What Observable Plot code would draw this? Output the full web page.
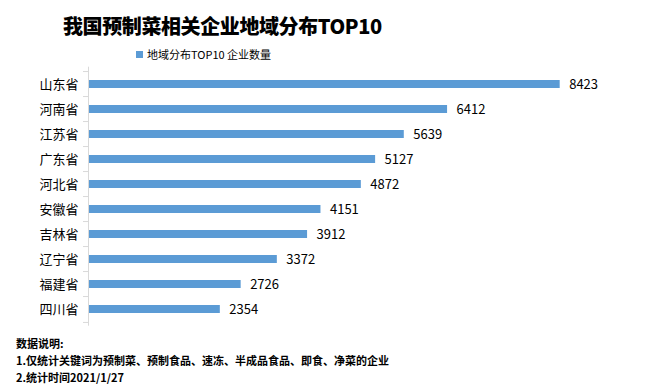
<!DOCTYPE html>
<html>
<head>
<meta charset="utf-8">
<script src="https://cdn.jsdelivr.net/npm/d3@7"></script>
<script src="https://cdn.jsdelivr.net/npm/@observablehq/plot@0.6"></script>
<style>
  html, body { margin: 0; padding: 0; background: #fff; }
  #wrap { position: relative; width: 649px; height: 392px; overflow: hidden; font-family: "Noto Sans CJK SC", "Noto Sans", sans-serif; color: #000; }
  #title { position: absolute; left: 63px; top: 11px; font-size: 20px; font-weight: 900; line-height: 30px; white-space: nowrap; letter-spacing: -0.4px; }
  #legend { position: absolute; left: 136px; top: 45px; font-size: 11px; line-height: 18px; white-space: nowrap; display: flex; align-items: center; }
  #legend .sw { display: inline-block; width: 7px; height: 7px; margin-right: 4px; }
  #chart { position: absolute; left: 0; top: 60px; }
  #caption { position: absolute; left: 16px; top: 335px; font-size: 11px; font-weight: bold; line-height: 17px; white-space: nowrap; }
</style>
</head>
<body>
<div id="wrap">
  <div id="title"></div>
  <div id="legend"></div>
  <div id="chart"></div>
  <div id="caption"></div>
</div>
<script>
const titleText = "我国预制菜相关企业地域分布TOP10";
const seriesName = "地域分布TOP10 企业数量";
const provinces = ["山东省","河南省","江苏省","广东省","河北省","安徽省","吉林省","辽宁省","福建省","四川省"];
const counts = [8423,6412,5639,5127,4872,4151,3912,3372,2726,2354];
const captionLines = ["数据说明:", "1.仅统计关键词为预制菜、预制食品、速冻、半成品食品、即食、净菜的企业", "2.统计时间2021/1/27"];

const barColor = "#5b9bd5";
const data = provinces.map((p, i) => ({province: p, count: counts[i]}));

document.getElementById("title").textContent = titleText;
const lg = document.getElementById("legend");
const sw = document.createElement("span"); sw.className = "sw"; sw.style.background = barColor;
lg.appendChild(sw);
lg.appendChild(document.createTextNode(seriesName));
document.getElementById("caption").innerHTML = captionLines.map(s => `<div>${s}</div>`).join("");

const W = 649, H = 274, mt = 6.7, mb = 8.3, ml = 88, mr = 57;
const step = (H - mt - mb) / provinces.length;

const chart = Plot.plot({
  width: W, height: H,
  marginTop: mt, marginBottom: mb, marginLeft: ml, marginRight: mr,
  style: {fontFamily: '"Noto Sans CJK SC", "Noto Sans", sans-serif', fontSize: "13px", color: "#000", background: "transparent"},
  x: {domain: [0, 9000], axis: null},
  y: {domain: provinces, paddingInner: 0.69, paddingOuter: 0.345, label: null},
  marks: [
    Plot.barX(data, {x: "count", y: "province", fill: barColor}),
    Plot.ruleX([0], {stroke: "#d9d9d9", strokeWidth: 1}),
    Plot.ruleY(provinces, {y: d => d, x1: 0, x2: 0, insetLeft: -5, dy: -step / 2, stroke: "#d9d9d9"}),
    Plot.ruleY(provinces.slice(-1), {y: d => d, x1: 0, x2: 0, insetLeft: -5, dy: step / 2, stroke: "#d9d9d9"}),
    Plot.axisY({tickSize: 0, tickPadding: 10, fontSize: 13, fill: "#000", label: null}),
    Plot.text(data, {x: "count", y: "province", text: d => String(d.count), dx: 9, textAnchor: "start", fill: "#000", fontSize: 13})
  ]
});
document.getElementById("chart").appendChild(chart);
</script>
</body>
</html>
